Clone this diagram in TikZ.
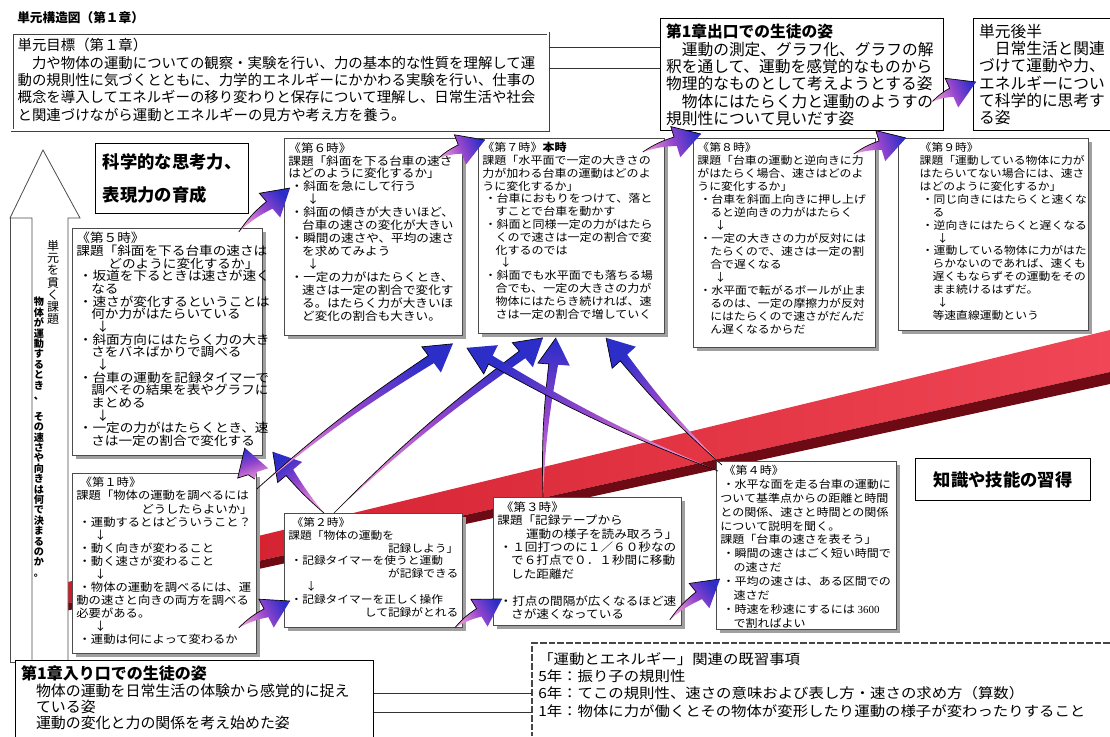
\documentclass[tikz,border=0pt]{standalone}
\usepackage{fontspec}
\setmainfont{Noto Sans CJK JP}
\newfontfamily\jf[FakeStretch=1.1]{Noto Sans CJK JP}
\newfontfamily\numf{Liberation Serif}
\usetikzlibrary{calc,shadows}
\definecolor{arrA}{RGB}{236,150,215}
\definecolor{arrM}{RGB}{150,70,205}
\definecolor{arrB}{RGB}{45,45,200}
\definecolor{ribL}{RGB}{205,25,40}
\definecolor{ribR}{RGB}{240,70,85}
\definecolor{ribD}{RGB}{110,10,20}
\tikzset{
  sbox/.style={draw=gray!60!black, line width=0.6pt, fill=white,
    drop shadow={shadow xshift=3pt, shadow yshift=-3pt, fill=gray!75, opacity=1}},
  kbox/.style={draw=black, line width=1.1pt, fill=white},
  gbox/.style={draw=gray!50!black, line width=0.5pt, double=white, double distance=1.6pt, fill=white},
}
\newcommand\jb{\hspace*{0.2em}・}
\newcommand\jc{\hspace*{1.2em}}
\newcommand\jd{\hspace*{1.6em}↓}
\newcommand\bx[7]{\node[#1, inner sep=#6pt, anchor=north west] (#2) at (#3)
  {\parbox[c][\dimexpr0.75pt*#5-#6pt*2\relax][t]{\dimexpr0.75pt*#4-#6pt*2\relax}{\raggedright #7}};}
\makeatletter
\newcommand\vtext[1]{\vbox{\@tfor\vt@c:=#1\do{\hbox to 1em{\hss\vt@c\hss}}}}
\makeatother
\newcommand\parr[3][8]{%
  \path (#2) coordinate (pa) (#3) coordinate (pb);
  \path ($(pb)!20pt!(pa)$) coordinate (ph);
  \path ($(ph)!3.8pt!90:(pb)$) coordinate (s1) ($(ph)!3.2pt!-90:(pb)$) coordinate (s2)
        ($(ph)!12pt!90:(pb)$) coordinate (w1) ($(ph)!12pt!-90:(pb)$) coordinate (w2);
  \path let \p1=($(pb)-(pa)$), \n1={atan2(\y1,\x1)+90} in \pgfextra{\xdef\parang{\n1}};
  \shade[left color=arrA, right color=arrB, middle color=arrM, shading angle=\parang]
    (pa) to[bend left=#1] (s1) -- (w1) -- (pb) -- (w2) -- (s2) to[bend right=#1] (pa) -- cycle;
  \draw[line width=0.5pt] (pa) to[bend left=#1] (s1) -- (w1) -- (pb);
}
\begin{document}
\begin{tikzpicture}[x=0.75pt,y=-0.75pt]
\useasboundingbox (0,0) rectangle (1110,736);
% red ribbon
\shade[left color=ribL, right color=ribR] (10,596) -- (1110,330) -- (1110,372) -- (10,616) -- cycle;
\fill[ribD] (10,616) -- (1110,372) -- (1110,384) -- (10,623) -- cycle;
% white arrow
\draw[fill=white, draw=gray!60!black, line width=0.6pt] (10,218) -- (10,662) -- (32,662) -- (32,218);
\draw[fill=white, draw=gray!60!black, line width=0.6pt] (43,150) -- (80,218) -- (68,218) -- (68,662) -- (32,662) -- (32,218) -- (10,218) -- cycle;
\node[anchor=north, inner sep=0, font=\fontsize{9}{9.2}\selectfont] (vt1) at (53,240) {\vtext{単元を貫く課題}};
\node[anchor=north, inner sep=0, font=\bfseries\fontsize{7.6}{7.8}\selectfont] (vt2) at (39,297) {\vtext{物体が運動するとき、　その速さや向きは何で決まるのか。}};
% title
\node[anchor=west, inner sep=0, font=\bfseries\fontsize{9.5}{10}\selectfont] (title) at (17,18) {単元構造図（第１章）};
% goal box
\bx{gbox, font=\fontsize{10.8}{13}\selectfont}{goal}{12,33}{536}{97}{4}{%
単元目標（第１章）\\
　力や物体の運動についての観察・実験を行い、力の基本的な性質を理解して運\\
動の規則性に気づくとともに、力学的エネルギーにかかわる実験を行い、仕事の\\
概念を導入してエネルギーの移り変わりと保存について理解し、日常生活や社会\\
と関連づけながら運動とエネルギーの見方や考え方を養う。}
% exit box
\bx{kbox, font=\fontsize{11.8}{13}\selectfont}{exit}{660,18}{283}{112}{4}{%
{\bfseries 第1章出口での生徒の姿}\\
　運動の測定、グラフ化、グラフの解\\
釈を通して、運動を感覚的なものから\\
物理的なものとして考えようとする姿\\
　物体にはたらく力と運動のようすの\\
規則性について見いだす姿}
\bx{kbox, font=\fontsize{11.8}{13}\selectfont}{late}{973,18}{142}{112}{4}{%
単元後半\\
　日常生活と関連\\
づけて運動や力、\\
エネルギーについ\\
て科学的に思考す\\
る姿}
\draw[gray!40!black, line width=0.7pt] ($(goal.north east)+(0,14)$) -- ($(exit.north west)+(0,29)$);
\draw[gray!40!black, line width=0.7pt] ($(goal.north east)+(0,35)$) -- ($(exit.north west)+(0,50)$);
% science box
\node[kbox, anchor=north west, minimum width=114.75pt, minimum height=52.5pt, align=left,
  font=\bfseries\fontsize{13}{24.75}\selectfont] (sci) at (95,143) {科学的な思考力、\\表現力の育成};
% knowledge box
\node[kbox, anchor=north west, minimum width=131.25pt, minimum height=31.5pt,
  font=\bfseries\fontsize{13}{14}\selectfont] (know) at (915,458) {知識や技能の習得};
% session boxes
\bx{sbox, font=\jf\fontsize{9.3}{9.5}\selectfont}{b5}{72,228}{190}{227}{3}{%
《第５時》\\
課題「斜面を下る台車の速さは\\
\hspace*{\fill}どのように変化するか」\\
\jb 坂道を下るときは速さが速く\\
\jc なる\\
\jb 速さが変化するということは\\
\jc 何か力がはたらいている\\
\jd\\
\jb 斜面方向にはたらく力の大き\\
\jc さをバネばかりで調べる\\
\jd\\
\jb 台車の運動を記録タイマーで\\
\jc 調べその結果を表やグラフに\\
\jc まとめる\\
\jd\\
\jb 一定の力がはたらくとき、速\\
\jc さは一定の割合で変化する}
\bx{sbox, font=\jf\fontsize{8.6}{9.7}\selectfont}{b6}{284,138}{178}{197}{3}{%
《第６時》\\
課題「斜面を下る台車の速さ\\
はどのように変化するか」\\
\jb 斜面を急にして行う\\
\jd\\
\jb 斜面の傾きが大きいほど、\\
\jc 台車の速さの変化が大きい\\
\jb 瞬間の速さや、平均の速さ\\
\jc を求めてみよう\\
\jd\\
\jb 一定の力がはたらくとき、\\
\jc 速さは一定の割合で変化す\\
\jc る。はたらく力が大きいほ\\
\jc ど変化の割合も大きい。}
\bx{sbox, font=\jf\fontsize{8.2}{9.6}\selectfont}{b7}{478,138}{186}{195}{3}{%
《第７時》{\bfseries 本時}\\
課題「水平面で一定の大きさの\\
力が加わる台車の運動はどのよ\\
うに変化するか」\\
\jb 台車におもりをつけて、落と\\
\jc すことで台車を動かす\\
\jb 斜面と同様一定の力がはたら\\
\jc くので速さは一定の割合で変\\
\jc 化するのでは\\
\jd\\
\jb 斜面でも水平面でも落ちる場\\
\jc 合でも、一定の大きさの力が\\
\jc 物体にはたらき続ければ、速\\
\jc さは一定の割合で増していく}
\bx{sbox, font=\jf\fontsize{8.1}{9.75}\selectfont}{b8}{693,138}{182}{209}{3}{%
《第８時》\\
課題「台車の運動と逆向きに力\\
がはたらく場合、速さはどのよ\\
うに変化するか」\\
\jb 台車を斜面上向きに押し上げ\\
\jc ると逆向きの力がはたらく\\
\jd\\
\jb 一定の大きさの力が反対には\\
\jc たらくので、速さは一定の割\\
\jc 合で遅くなる\\
\jd\\
\jb 水平面で転がるボールが止ま\\
\jc るのは、一定の摩擦力が反対\\
\jc にはたらくので速さがだんだ\\
\jc ん遅くなるからだ}
\bx{sbox, font=\jf\fontsize{8.05}{9.7}\selectfont}{b9}{898,138}{190}{192}{3}{%
\leftskip=13pt
《第９時》\\
課題「運動している物体に力が\\
はたらいてない場合には、速さ\\
はどのように変化するか」\\
\jb 同じ向きにはたらくと速くな\\
\jc る\\
\jb 逆向きにはたらくと遅くなる\\
\jd\\
\jb 運動している物体に力がはた\\
\jc らかないのであれば、速くも\\
\jc 遅くもならずその運動をその\\
\jc まま続けるはずだ。\\
\jd\\
\jc 等速直線運動という}
\bx{sbox, font=\jf\fontsize{8.4}{9.8}\selectfont}{b1}{72,473}{184}{180}{3}{%
\hspace*{0.3em}《第１時》\\
課題「物体の運動を調べるには\\
\hspace*{\fill}どうしたらよいか」\\
\jb 運動するとはどういうこと？\\
\jd\\
\jb 動く向きが変わること\\
\jb 動く速さが変わること\\
\jd\\
\jb 物体の運動を調べるには、運\\
動の速さと向きの両方を調べる\\
必要がある。\\
\jd\\
\jb 運動は何によって変わるか}
\bx{sbox, font=\jf\fontsize{8.0}{9.6}\selectfont}{b2}{284,513}{178}{114}{3}{%
\hspace*{0.3em}《第２時》\\
課題「物体の運動を\\
\hspace*{\fill}記録しよう」\hspace*{1em}\\
\jb 記録タイマーを使うと運動\\
\hspace*{\fill}が記録できる\\
\jd\\
\jb 記録タイマーを正しく操作\\
\hspace*{\fill}して記録がとれる}
\bx{sbox, font=\jf\fontsize{8.6}{10.1}\selectfont}{b3}{493,497}{188}{128}{3}{%
\hspace*{0.3em}《第３時》\\
課題「記録テープから\\
\hspace*{\fill}運動の様子を読み取ろう」\\
\jb １回打つのに１／６０秒なの\\
\jc で６打点で０．１秒間に移動\\
\jc した距離だ\\
\mbox{}\\
\jb 打点の間隔が広くなるほど速\\
\jc さが速くなっている}
\bx{sbox, font=\jf\fontsize{8.2}{10.4}\selectfont}{b4}{716,461}{180}{168}{3}{%
\hspace*{0.3em}《第４時》\\
\jb 水平な面を走る台車の運動に\\
ついて基準点からの距離と時間\\
との関係、速さと時間との関係\\
について説明を聞く。\\
課題「台車の速さを表そう」\\
\jb 瞬間の速さはごく短い時間で\\
\jc の速さだ\\
\jb 平均の速さは、ある区間での\\
\jc 速さだ\\
\jb 時速を秒速にするには~{\numf 3600}\\
\jc で割ればよい}
% entry box
\bx{kbox, font=\fontsize{11.2}{12.2}\selectfont}{entry}{15,660}{358}{84}{4}{%
{\bfseries\fontsize{12}{12.2}\selectfont 第1章入り口での生徒の姿}\\
　物体の運動を日常生活の体験から感覚的に捉え\\
　ている姿\\
　運動の変化と力の関係を考え始めた姿}
% prior knowledge
\draw[gray!55!black, line width=1.6pt, dash pattern=on 5pt off 1.5pt] (1110,643) -- (532,643) -- (532,736);
\node[anchor=north west, inner sep=0, align=left, font=\jf\fontsize{10.5}{13}\selectfont] (prior) at (538,652) {%
「運動とエネルギー」関連の既習事項\\
5年：振り子の規則性\\
6年：てこの規則性、速さの意味および表し方・速さの求め方（算数）\\
1年：物体に力が働くとその物体が変形したり運動の様子が変わったりすること};
\coordinate (pl1) at (532,693);
\coordinate (pl2) at (532,712);
\draw[gray!40!black, line width=0.7pt] (entry.east |- pl1) -- (pl1);
\draw[gray!40!black, line width=0.7pt] (entry.east |- pl2) -- (pl2);
% step arrows
\parr{$(b5.north east)+(-24,4)$}{$(b6.north west)+(6,50)$}
\parr{$(b6.north east)+(-24,20)$}{$(b7.north west)+(7,2)$}
\parr{$(b7.north east)+(-22,14)$}{$(b8.north west)+(8,-4)$}
\parr{$(b8.north east)+(-22,16)$}{$(b9.north west)+(8,0)$}
\parr{$(exit.south east)+(-12,-30)$}{$(late.north west)+(3,64)$}
\parr{$(b1.south east)+(-18,-26)$}{$(b2.north west)+(6,88)$}
\parr{$(b2.south east)+(-8,0)$}{$(b3.north west)+(9,102)$}
\parr{$(b3.south east)+(-12,-6)$}{$(b4.north west)+(4,118)$}
% long arrows
\parr[4]{$(b1.north east)+(-2,6)$}{$(b5.south east)+(-18,-8)$}
\parr[4]{$(b2.north west)+(40,0)$}{$(b5.south east)+(10,-4)$}
\parr[4]{$(b1.north east)+(0,16)$}{$(b6.south east)+(-10,8)$}
\parr[4]{$(b2.north west)+(50,0)$}{$(b7.south west)+(65,4)$}
\parr[4]{$(b3.north west)+(50,0)$}{$(b7.south west)+(78,4)$}
\parr[4]{$(b4.north west)+(6,4)$}{$(b7.south west)+(128,4)$}
\parr[4]{$(b4.north west)+(2,10)$}{$(b6.south east)+(4,12)$}
\end{tikzpicture}
\end{document}
